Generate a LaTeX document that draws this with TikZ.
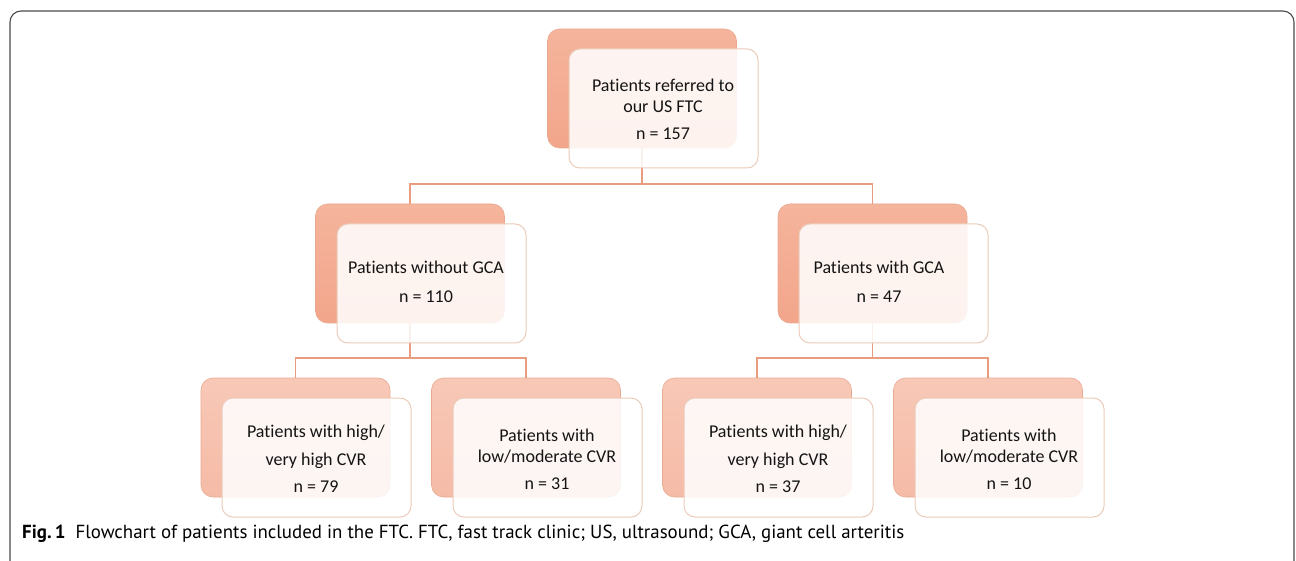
\documentclass[tikz,border=0pt]{standalone}
\usepackage{fontspec}
\setmainfont{Carlito}[Ligatures=NoCommon]
\newfontfamily\capfont{PT Sans}
\usetikzlibrary{calc}
\definecolor{backA}{HTML}{F5B49C}
\definecolor{backAbot}{HTML}{F2A68B}
\definecolor{backB}{HTML}{F8C8B7}
\definecolor{backBbot}{HTML}{F5BBA7}
\definecolor{backline}{HTML}{E9AA92}
\definecolor{frontline}{HTML}{EBCBB9}
\definecolor{conncol}{HTML}{E99C7E}
\definecolor{framecol}{HTML}{4A4A4A}
\tikzset{
  backbox/.style={draw=backline, line width=0.6pt, rounded corners=12pt,
    minimum width=189pt, minimum height=119pt, inner sep=0pt,
    top color=backA, bottom color=backAbot},
  backboxlight/.style={backbox, top color=backB, bottom color=backBbot},
  frontbox/.style={draw=frontline, line width=1pt, rounded corners=11pt,
    minimum width=189pt, minimum height=119pt, inner sep=0pt,
    fill=white, fill opacity=0.86},
  txt/.style={align=center, font=\fontsize{18}{21}\selectfont, text=black!92, inner sep=0pt},
  conn/.style={draw=conncol, line width=1.4pt},
}
\begin{document}
\begin{tikzpicture}[x=1pt,y=-1pt]
\useasboundingbox (0,0) rectangle (1296,561);
\clip (0,0) rectangle (1296,561);
\draw[framecol, line width=1.1pt, rounded corners=11pt] (10,11) rectangle (1294,575);

% back boxes
\node[backbox] (b0) at (642,88.5) {};
\node[backbox] (b1) at (410,263.5) {};
\node[backbox] (b2) at (872.5,263.5) {};
\node[backboxlight] (b3) at (295.5,437.5) {};
\node[backboxlight] (b4) at (526,437.5) {};
\node[backboxlight] (b5) at (757,437.5) {};
\node[backboxlight] (b6) at (988,437.5) {};

% connectors
\coordinate (j0) at (642,184);
\coordinate (j1) at (410,358);
\coordinate (j2) at (872.5,358);
\draw[conn] (b0.south) -- (j0) -| (b1.north);
\draw[conn] (j0) -| (b2.north);
\draw[conn] (b1.south) -- (j1) -| (b3.north);
\draw[conn] (j1) -| (b4.north);
\draw[conn] (b2.south) -- (j2) -| (b5.north);
\draw[conn] (j2) -| (b6.north);

% front boxes
\node[frontbox] (f0) at (663.5,108.5) {};
\node[frontbox] (f1) at (431.5,283.5) {};
\node[frontbox] (f2) at (893.5,283.5) {};
\node[frontbox] (f3) at (316.5,457.5) {};
\node[frontbox] (f4) at (547.5,457.5) {};
\node[frontbox] (f5) at (778.5,457.5) {};
\node[frontbox] (f6) at (1009.5,457.5) {};

% texts
\node[txt] (t0) at (663,109) {Patients referred to\\our US FTC\\[6pt]n = 157};
\node[txt] (t1) at (426,282) {Patients without GCA\\[8pt]n = 110};
\node[txt] (t2) at (879,282) {Patients with GCA\\[8pt]n = 47};
\node[txt] (t3) at (316,459) {Patients with high/\\[7pt]very high CVR\\[6pt]n = 79};
\node[txt] (t4) at (547,459) {Patients with\\low/moderate CVR\\[6pt]n = 31};
\node[txt] (t5) at (778,459) {Patients with high/\\[7pt]very high CVR\\[6pt]n = 37};
\node[txt] (t6) at (1009,459) {Patients with\\low/moderate CVR\\[6pt]n = 10};

% caption
\node[anchor=base west, inner sep=0pt, font=\capfont\fontsize{18.9}{22}\selectfont] (cap) at (22,538)
  {\textbf{Fig.\,1}\hspace{10pt}Flowchart of patients included in the FTC. FTC, fast track clinic; US, ultrasound; GCA, giant cell arteritis};
\end{tikzpicture}
\end{document}
